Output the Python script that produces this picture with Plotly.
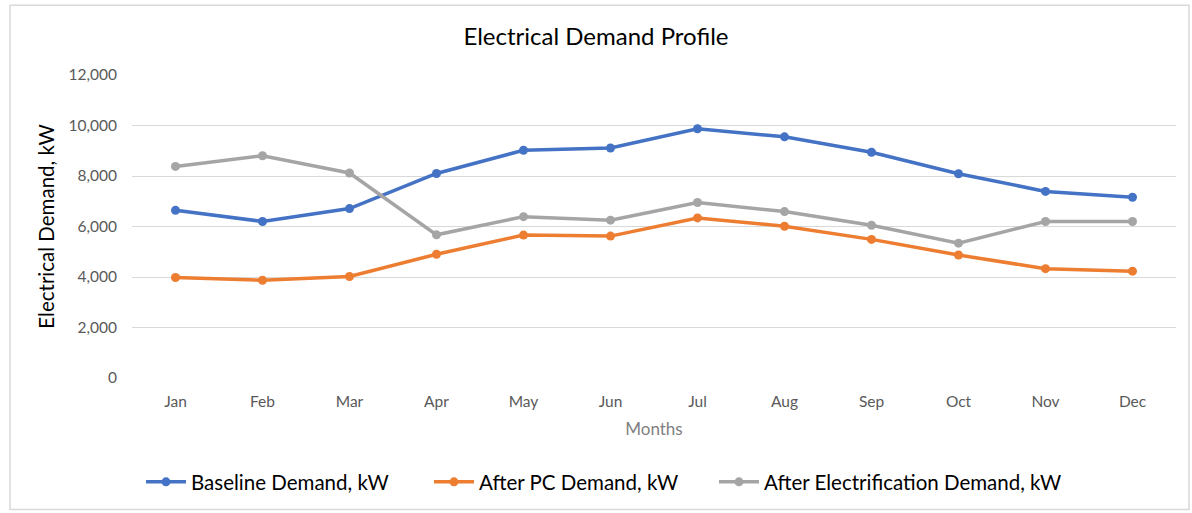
import plotly.graph_objects as go

months = ["Jan", "Feb", "Mar", "Apr", "May", "Jun", "Jul", "Aug", "Sep", "Oct", "Nov", "Dec"]
baseline = [6640, 6200, 6710, 8100, 9020, 9110, 9870, 9550, 8940, 8090, 7390, 7160]
after_pc = [3980, 3870, 4020, 4900, 5660, 5620, 6340, 6010, 5490, 4870, 4330, 4230]
after_elec = [8380, 8800, 8120, 5670, 6390, 6250, 6950, 6590, 6050, 5340, 6200, 6200]

series = [
    ("Baseline Demand, kW", baseline, "#4472C4", "legend", 149),
    ("After PC Demand, kW", after_pc, "#ED7D31", "legend2", 437),
    ("After Electrification Demand, kW", after_elec, "#A5A5A5", "legend3", 722),
]

font_family = "Lato, 'Open Sans', sans-serif"
W, H = 1192, 513
L, R, T, B = 132, 16, 75, 134
PW, PH = W - L - R, H - T - B

fig = go.Figure()
legends = {}
for name, vals, color, leg, px in series:
    fig.add_trace(go.Scatter(
        x=months, y=vals, name=name, mode="lines+markers",
        line=dict(color=color, width=3.5),
        marker=dict(color=color, size=9),
        legend=leg,
    ))
    legends[leg] = dict(
        orientation="h", x=(px - 8 - L) / PW, xanchor="left",
        y=(H - B - 482) / PH, yanchor="middle",
        font=dict(size=20.5, color="#000000", family=font_family),
        itemwidth=40, bgcolor="rgba(0,0,0,0)",
    )

fig.update_layout(
    width=W, height=H,
    margin=dict(l=L, r=R, t=T, b=B),
    paper_bgcolor="white", plot_bgcolor="white",
    font=dict(family=font_family, color="#595959"),
    title=dict(text="Electrical Demand Profile", x=0.5, xanchor="center",
               y=1 - 37 / H, yanchor="middle",
               font=dict(size=24, color="#000000", family=font_family)),
    showlegend=True,
    xaxis=dict(
        type="category", range=[-0.5, 11.5], showgrid=False, zeroline=False,
        showline=False, ticks="", tickfont=dict(size=15.5, color="#595959"),
        ticklabelstandoff=12,
        title=dict(text="Months", font=dict(size=17, color="#7f7f7f"), standoff=14),
    ),
    yaxis=dict(
        range=[0, 12000], dtick=2000, tickformat=",d", showgrid=True,
        gridcolor="#D9D9D9", gridwidth=1, zeroline=False, showline=False,
        ticks="", tickfont=dict(size=15.5, color="#595959"),
        ticklabelstandoff=14,
        title=dict(text="Electrical Demand, kW", font=dict(size=20.5, color="#000000"),
                   standoff=8),
    ),
    shapes=[dict(type="rect", xref="paper", yref="paper",
                 x0=(10 - L) / PW, x1=(1189 - L) / PW,
                 y0=(H - B - 511) / PH, y1=(H - B - 5) / PH,
                 line=dict(color="#D9D9D9", width=1.5), fillcolor="rgba(0,0,0,0)",
                 layer="below")],
    **legends,
)

fig.write_html("out.html", config={"displayModeBar": False},
               post_script="document.body.style.margin='0';document.body.style.padding='0';")
